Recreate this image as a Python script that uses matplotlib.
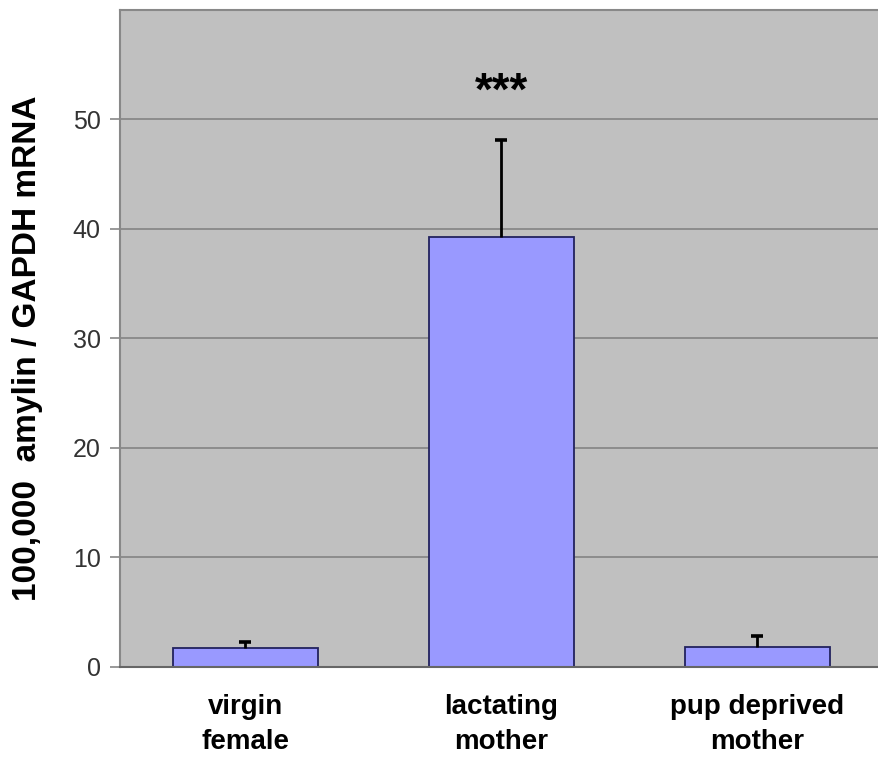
import matplotlib
matplotlib.use("Agg")
import matplotlib.pyplot as plt

categories = ["virgin\nfemale", "lactating\nmother", "pup deprived\nmother"]
values = [1.7, 39.3, 1.8]
errors = [0.6, 8.8, 1.0]
yticks = [0, 10, 20, 30, 40, 50]
star_label = "***"
star_y = 52.4

plt.rcParams['font.family'] = ['Liberation Sans', 'DejaVu Sans']

fig = plt.figure(figsize=(8.79, 7.57), dpi=100)
ax = fig.add_axes([120/879, 1 - 666.7/757, 759/879, (666.7 - 10)/757])
ax.set_facecolor('#C0C0C0')
ax.set_axisbelow(True)
ax.yaxis.grid(True, color='#8C8C8C', linewidth=1.4)

x = list(range(len(categories)))
ax.bar(x, values, width=0.567, color='#9999FF', edgecolor='#22225E', linewidth=1.3, zorder=2)
eb = ax.errorbar(x, values, yerr=[[0]*len(errors), errors], fmt='none', ecolor='black',
                 elinewidth=2.0, capsize=4, capthick=2.6, zorder=3)
eb[1][0].set_visible(False)

ax.text(1, star_y, star_label, ha='center', va='center', fontsize=33, fontweight='bold')

ax.set_xlim(-0.49, -0.49 + 759/256)
ax.set_ylim(0, 60)
ax.set_yticks(yticks)
ax.set_yticklabels([str(t) for t in yticks], fontsize=18, color='#333333')
ax.set_xticks(x)
ax.set_xticklabels(categories, fontsize=20, fontweight='bold', linespacing=1.45)
ax.tick_params(axis='x', length=0, pad=20)
ax.tick_params(axis='y', length=7, width=1.2, color='#888888', pad=7)

for s in ['top', 'left']:
    ax.spines[s].set_color('#888888')
    ax.spines[s].set_linewidth(1.5)
ax.spines['right'].set_visible(False)
ax.spines['bottom'].set_color('#666666')
ax.spines['bottom'].set_linewidth(1.5)

ax.set_ylabel("100,000  amylin / GAPDH mRNA", fontsize=24, fontweight='bold')
ax.yaxis.set_label_coords(-(120 - 28)/759, 0.485)
ax.yaxis.label.set_verticalalignment('center')

fig.savefig("out.png", dpi=100)
